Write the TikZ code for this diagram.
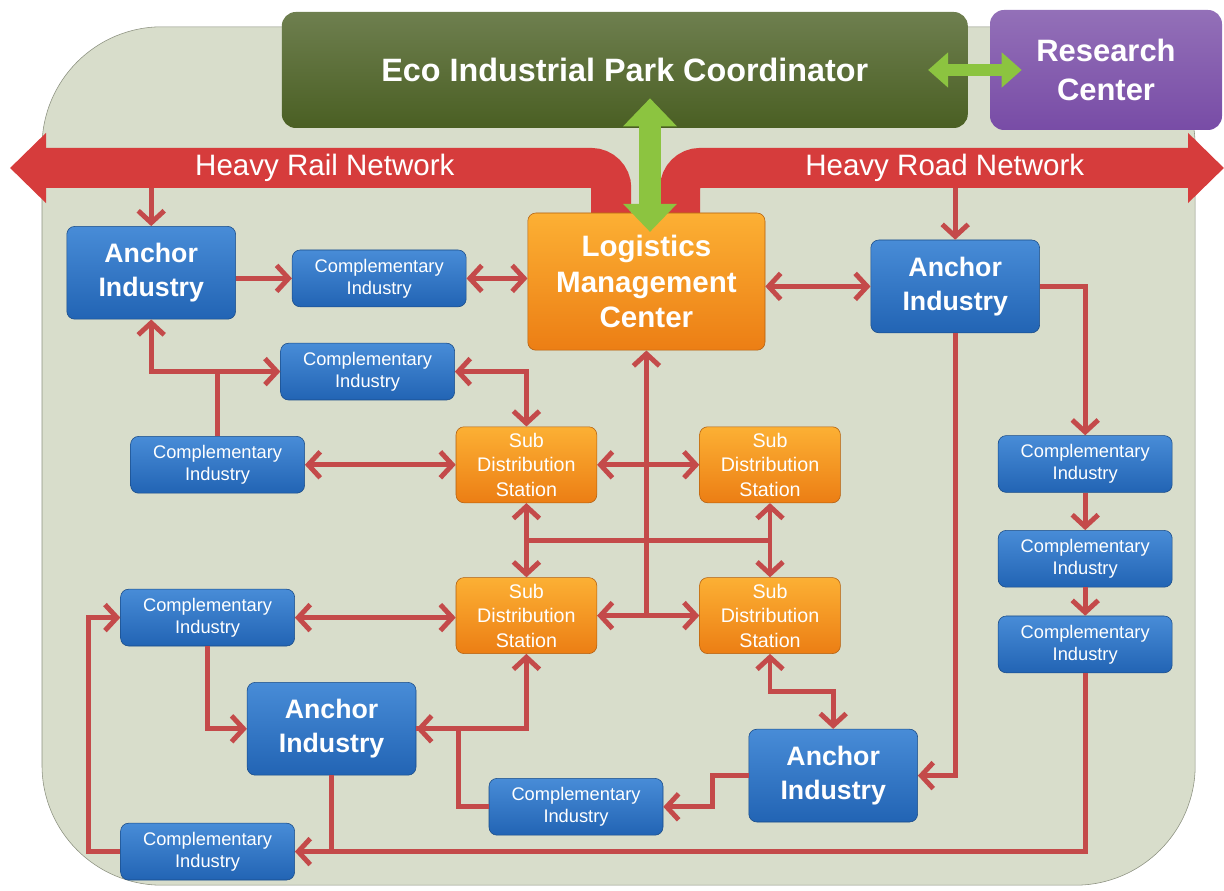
\documentclass[tikz,border=0pt]{standalone}
\usepackage{fontspec}
\setmainfont{Liberation Sans}
\usetikzlibrary{arrows.meta,calc}
\definecolor{parkbg}{RGB}{216,221,203}
\definecolor{parkline}{RGB}{140,145,128}
\definecolor{coordgreen}{RGB}{74,95,35}
\definecolor{respurple}{RGB}{120,76,166}
\definecolor{anchorblue}{RGB}{34,100,180}
\definecolor{anchortop}{RGB}{72,140,215}
\definecolor{orangebot}{RGB}{236,126,20}
\definecolor{orangetop}{RGB}{252,176,52}
\definecolor{bandred}{RGB}{214,60,60}
\definecolor{linkred}{RGB}{196,74,74}
\definecolor{leafgreen}{RGB}{140,196,64}
\begin{document}
\begin{tikzpicture}[
    topbox/.style={rounded corners=0.35cm,text=white,align=center,font=\bfseries\fontsize{23}{28}\selectfont},
    anchorbox/.style={draw=anchorblue!75!black,top color=anchortop,bottom color=anchorblue,rounded corners=0.2cm,
        text=white,align=center,minimum width=4.22cm,minimum height=2.32cm,font=\bfseries\fontsize{19}{24}\selectfont},
    compbox/.style={anchorbox,minimum width=4.35cm,minimum height=1.42cm,font=\fontsize{13}{15.5}\selectfont},
    subbox/.style={draw=orangebot!75!black,top color=orangetop,bottom color=orangebot,rounded corners=0.2cm,
        text=white,align=center,minimum width=3.52cm,minimum height=1.9cm,font=\fontsize{14}{17.5}\selectfont},
    band/.style={draw=bandred,line width=1cm,rounded corners=0.5cm},
    bandtext/.style={text=white,font=\fontsize{21}{25}\selectfont},
    pipe/.style={draw=linkred,line width=3.5pt},
    flow/.style={pipe,-{Straight Barb[length=0.3cm,width=0.65cm]}},
    dualflow/.style={pipe,{Straight Barb[length=0.3cm,width=0.65cm]}-{Straight Barb[length=0.3cm,width=0.65cm]}},
    leaf/.style={draw=leafgreen,line width=0.55cm,{Triangle[length=0.7cm,width=1.3cm]}-{Triangle[length=0.7cm,width=1.3cm]}}]
    \useasboundingbox (0,0) rectangle (30.60,22.25);
    \draw[fill=parkbg,draw=parkline,rounded corners=3cm] (1.05,0.12) rectangle (29.88,21.58);
    % rail and road
    \draw[band,{Triangle[length=0.9cm,width=1.7cm]}-] (0.25,18.05) -- (15.28,18.05) -- (15.28,16.93);
    \draw[band,-{Triangle[length=0.9cm,width=1.7cm]}] (17.00,16.93) -- (17.00,18.05) -- (30.60,18.05);
    \node[bandtext] (rail) at (8.12,18.05) {Heavy Rail Network};
    \node[bandtext] (road) at (23.62,18.05) {Heavy Road Network};
    % boxes
    \node[topbox,top color=coordgreen!80!white,bottom color=coordgreen,minimum width=17.15cm,minimum height=2.9cm] (eip) at (15.62,20.50) {Eco Industrial Park Coordinator};
    \node[topbox,top color=respurple!80!white,bottom color=respurple,minimum width=5.8cm,minimum height=3.0cm,font=\bfseries\fontsize{22}{28}\selectfont] (rc) at (27.65,20.50) {Research\\Center};
    \node[subbox,minimum width=5.93cm,minimum height=3.43cm,font=\bfseries\fontsize{21}{25.5}\selectfont] (lmc) at (16.16,15.21) {Logistics\\Management\\Center};
    \node[anchorbox] (a1) at (3.78,15.43) {Anchor\\Industry};
    \node[anchorbox] (a2) at (23.88,15.09) {Anchor\\Industry};
    \node[anchorbox] (a3) at (8.29,4.03) {Anchor\\Industry};
    \node[anchorbox] (a4) at (20.83,2.86) {Anchor\\Industry};
    \node[compbox] (c1) at (9.48,15.29) {Complementary\\Industry};
    \node[compbox] (c2) at (9.19,12.96) {Complementary\\Industry};
    \node[compbox] (c3) at (5.44,10.63) {Complementary\\Industry};
    \node[compbox] (c4) at (5.19,6.81) {Complementary\\Industry};
    \node[compbox] (c5) at (5.19,0.96) {Complementary\\Industry};
    \node[compbox] (c6) at (14.40,2.08) {Complementary\\Industry};
    \node[compbox] (c7) at (27.13,10.65) {Complementary\\Industry};
    \node[compbox] (c8) at (27.13,8.28) {Complementary\\Industry};
    \node[compbox] (c9) at (27.13,6.14) {Complementary\\Industry};
    \node[subbox] (s1) at (13.16,10.63) {Sub\\Distribution\\Station};
    \node[subbox] (s2) at (19.25,10.63) {Sub\\Distribution\\Station};
    \node[subbox] (s3) at (13.16,6.86) {Sub\\Distribution\\Station};
    \node[subbox] (s4) at (19.25,6.86) {Sub\\Distribution\\Station};
    % green links
    \draw[leaf,line width=0.3cm,{Triangle[length=0.5cm,width=0.85cm]}-{Triangle[length=0.5cm,width=0.85cm]}] ([xshift=-1cm]eip.east) -- ([xshift=0.8cm]rc.west);
    \draw[leaf] ($(lmc.north |- eip.south)+(0.09,0.75)$) -- ($(lmc.north)+(0.09,-0.48)$);
    % red links
    \coordinate (rail1) at (3.78,17.55);
    \coordinate (road1) at (23.88,17.55);
    \draw[flow] (rail1) -- (a1);
    \draw[flow] (road1) -- (a2);
    \draw[flow] (a1.east |- c1) -- (c1.west);
    \draw[dualflow] (c1.east) -- (c1.east -| lmc.west);
    \draw[dualflow] (lmc.east |- a2) -- (a2.west);
    \draw[flow] (a2.east) -| (c7.north);
    \draw[flow] (c7) -- (c8);
    \draw[flow] (c8) -- (c9);
    \draw[flow] (c9.south) |- (c5.east);
    \draw[pipe] (a3.south) -- (a3.south |- c5.east);
    \draw[flow] (c5.west) -- ++(-0.8,0) |- (c4.west);
    \draw[flow] (c4.south) |- (a3.west);
    \draw[dualflow] (a1.south) |- (c2.west);
    \draw[pipe] (c3.north) -- (c3.north |- c2.west);
    \draw[dualflow] (c2.east) -| (s1.north);
    \draw[dualflow] (c3.east) -- (s1.west);
    \draw[dualflow] (c4.east) -- (c4.east -| s3.west);
    \draw[flow] (lmc.south |- s3.east) -- (lmc.south);
    \draw[dualflow] (s1) -- (s2);
    \draw[dualflow] (s3) -- (s4);
    \draw[dualflow] (s1) -- (s3);
    \draw[dualflow] (s2) -- (s4);
    \draw[pipe] ($(s1.south)!0.5!(s3.north)$) -- ($(s2.south)!0.5!(s4.north)$);
    \draw[dualflow] (s3.south) |- (a3.east);
    \draw[pipe] (c6.west) -- ++(-0.75,0) |- (a3.east);
    \draw[dualflow] (s4.south) -- ++(0,-0.95) -| (a4.north);
    \draw[flow] (a2.south) |- (a4.east);
    \draw[flow] (a4.west) -- ++(-0.9,0) |- (c6.east);
\end{tikzpicture}
\end{document}
